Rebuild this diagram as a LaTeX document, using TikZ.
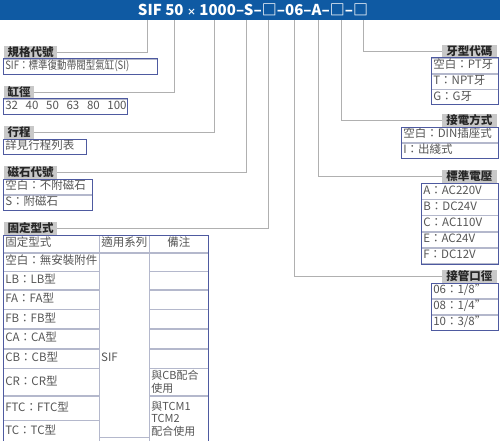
\documentclass[tikz,border=0pt]{standalone}
\usepackage{fontspec}
\setmainfont{Noto Sans CJK TC}
\usetikzlibrary{positioning, fit}

\definecolor{hdrc}{HTML}{0F5AA3}
\definecolor{tagc}{HTML}{C8C8C8}
\definecolor{boxc}{HTML}{4E5AA0}
\definecolor{gridc}{HTML}{B4B8CC}
\definecolor{linkc}{HTML}{B0B0B0}
\definecolor{txtc}{HTML}{555555}

\begin{document}
\begin{tikzpicture}[x=1pt, y=-1pt,
  title/.style={text=white, font=\fontsize{15}{15}\selectfont\bfseries, inner sep=0pt},
  tag/.style={fill=tagc, text=black!85, font=\fontsize{11.5}{12}\selectfont\bfseries,
              inner sep=0pt, minimum height=13pt, minimum width=#1},
  opt/.style={draw=gridc, line width=0.6pt, text=txtc, font=\fontsize{11.5}{13}\selectfont,
              text width=#1, align=left, inner xsep=2pt, inner ysep=0pt,
              minimum height=15pt, text height=8.5pt, text depth=2.5pt},
  frame/.style={draw=boxc, line width=1pt, inner sep=0pt},
  link/.style={draw=linkc, line width=0.9pt}
]
\useasboundingbox (0,0) rectangle (500,441);

% Header bar with the order code
\node[fill=hdrc, anchor=north west, minimum width=500pt, minimum height=20pt,
      inner sep=0pt] (bar) at (0,0) {};
\node[title] (code) at (253,10) {SIF 50 {\small ×} 1000–S–□–06–A–□–□};

% taps under the code
\coordinate (k-spec)  at (147,20);
\coordinate (k-bore)  at (174,20);
\coordinate (k-strk)  at (214,20);
\coordinate (k-mag)   at (246,20);
\coordinate (k-mount) at (268,20);
\coordinate (k-port)  at (294,20);
\coordinate (k-volt)  at (318,20);
\coordinate (k-wire)  at (341,20);
\coordinate (k-thrd)  at (363,20);

% Left column
\node[tag=53pt, anchor=south west] (t-spec) at (4,59) {規格代號};
\node[opt=150pt, anchor=north west] (spec) at (3,59)
  {\scalebox{0.83}[1]{SIF：標準復動帶閥型氣缸(SI)}};
\node[frame, fit=(spec)] {};

\node[tag=30pt, anchor=south west] (t-bore) at (4,99) {缸徑};
\node[opt=120pt, anchor=north west] (bore) at (3,99) {32~ 40~ 50~ 63~ 80~ 100};
\node[frame, fit=(bore)] {};

\node[tag=30pt, anchor=south west] (t-strk) at (4,139) {行程};
\node[opt=79pt, anchor=north west] (strk) at (3,139) {詳見行程列表};
\node[frame, fit=(strk)] {};

\node[tag=53pt, anchor=south west] (t-mag) at (4,179) {磁石代號};
\node[opt=85pt, anchor=north west] (mag-0) at (3,179) {空白：不附磁石};
\node[opt=85pt, below=0pt of mag-0] (mag-s) {S：附磁石};
\node[frame, fit=(mag-0)(mag-s)] {};

% Mounting table
\node[tag=53pt, anchor=south west] (t-mount) at (4,235) {固定型式};
\node[opt=92pt, minimum height=17pt, anchor=north west] (m-h) at (3,235) {固定型式};
\node[opt=92pt, minimum height=18pt, below=0pt of m-h]  (m-0)  {空白：無安裝附件};
\node[opt=92pt, minimum height=18pt, below=0pt of m-0]  (m-lb) {LB：LB型};
\node[opt=92pt, minimum height=19pt, below=0pt of m-lb] (m-fa) {FA：FA型};
\node[opt=92pt, minimum height=19pt, below=0pt of m-fa] (m-fb) {FB：FB型};
\node[opt=92pt, minimum height=19pt, below=0pt of m-fb] (m-ca) {CA：CA型};
\node[opt=92pt, minimum height=19pt, below=0pt of m-ca] (m-cb) {CB：CB型};
\node[opt=92pt, minimum height=27pt, below=0pt of m-cb] (m-cr) {CR：CR型};
\node[opt=92pt, minimum height=24pt, below=0pt of m-cr] (m-ftc) {FTC：FTC型};
\node[opt=92pt, minimum height=21pt, below=0pt of m-ftc] (m-tc) {TC：TC型};

\node[opt=46pt, align=center, minimum height=17pt, anchor=north west] (s-h) at (99,235) {適用系列};
\node[opt=46pt, minimum height=184pt, below=0pt of s-h] (s-all) {};
\node[text=txtc, font=\fontsize{11.5}{13}\selectfont, anchor=west, inner sep=2pt]
  (s-sif) at ([yshift=-12pt]s-all.west) {SIF};

\node[opt=55pt, align=center, minimum height=17pt, anchor=north west] (n-h) at (149,235) {備注};
\node[opt=55pt, minimum height=18pt, below=0pt of n-h]  (n-0)  {};
\node[opt=55pt, minimum height=18pt, below=0pt of n-0]  (n-lb) {};
\node[opt=55pt, minimum height=19pt, below=0pt of n-lb] (n-fa) {};
\node[opt=55pt, minimum height=19pt, below=0pt of n-fa] (n-fb) {};
\node[opt=55pt, minimum height=19pt, below=0pt of n-fb] (n-ca) {};
\node[opt=55pt, minimum height=19pt, below=0pt of n-ca] (n-cb) {};
\node[opt=55pt, minimum height=27pt, text height={}, text depth={},
      font=\fontsize{11}{12.5}\selectfont, below=0pt of n-cb] (n-cr) {與CB配合\\使用};
\node[opt=55pt, minimum height=45pt, text height={}, text depth={},
      font=\fontsize{11}{12.5}\selectfont, below=0pt of n-cr] (n-tcm) {與TCM1\\TCM2\\配合使用};
\node[frame, fit=(m-h)(n-tcm)] (mount) {};

% Right column
\node[tag=55pt, anchor=south east] (t-thrd) at (497,58) {牙型代碼};
\node[opt=63pt, anchor=north west] (thrd-0) at (431,58) {空白：PT牙};
\node[opt=63pt, below=0pt of thrd-0] (thrd-t) {T：NPT牙};
\node[opt=63pt, below=0pt of thrd-t] (thrd-g) {G：G牙};
\node[frame, fit=(thrd-0)(thrd-g)] {};

\node[tag=55pt, anchor=south east] (t-wire) at (497,127) {接電方式};
\node[opt=93pt, anchor=north west] (wire-0) at (401,127) {空白：DIN插座式};
\node[opt=93pt, below=0pt of wire-0] (wire-i) {I：出綫式};
\node[frame, fit=(wire-0)(wire-i)] {};

\node[tag=55pt, anchor=south east] (t-volt) at (497,183) {標準電壓};
\node[opt=73pt, minimum height=15.6pt, anchor=north west] (volt-a) at (421,183) {A：AC220V};
\node[opt=73pt, minimum height=15.6pt, below=0pt of volt-a] (volt-b) {B：DC24V};
\node[opt=73pt, minimum height=15.6pt, below=0pt of volt-b] (volt-c) {C：AC110V};
\node[opt=73pt, minimum height=15.6pt, below=0pt of volt-c] (volt-e) {E：AC24V};
\node[opt=73pt, minimum height=15.6pt, below=0pt of volt-e] (volt-f) {F：DC12V};
\node[frame, fit=(volt-a)(volt-f)] {};

\node[tag=55pt, anchor=south east] (t-port) at (497,283) {接管口徑};
\node[opt=63pt, minimum height=15.3pt, anchor=north west] (port-06) at (431,283) {06：1/8"};
\node[opt=63pt, minimum height=15.3pt, below=0pt of port-06] (port-08) {08：1/4"};
\node[opt=63pt, minimum height=15.3pt, below=0pt of port-08] (port-10) {10：3/8"};
\node[frame, fit=(port-06)(port-10)] {};

% Leader lines from the code to the tags
\draw[link] (k-spec)  |- (t-spec.east);
\draw[link] (k-bore)  |- (t-bore.east);
\draw[link] (k-strk)  |- (t-strk.east);
\draw[link] (k-mag)   |- (t-mag.east);
\draw[link] (k-mount) |- (t-mount.east);
\draw[link] (k-port)  |- (t-port.west);
\draw[link] (k-volt)  |- (t-volt.west);
\draw[link] (k-wire)  |- (t-wire.west);
\draw[link] (k-thrd)  |- (t-thrd.west);

\end{tikzpicture}
\end{document}
